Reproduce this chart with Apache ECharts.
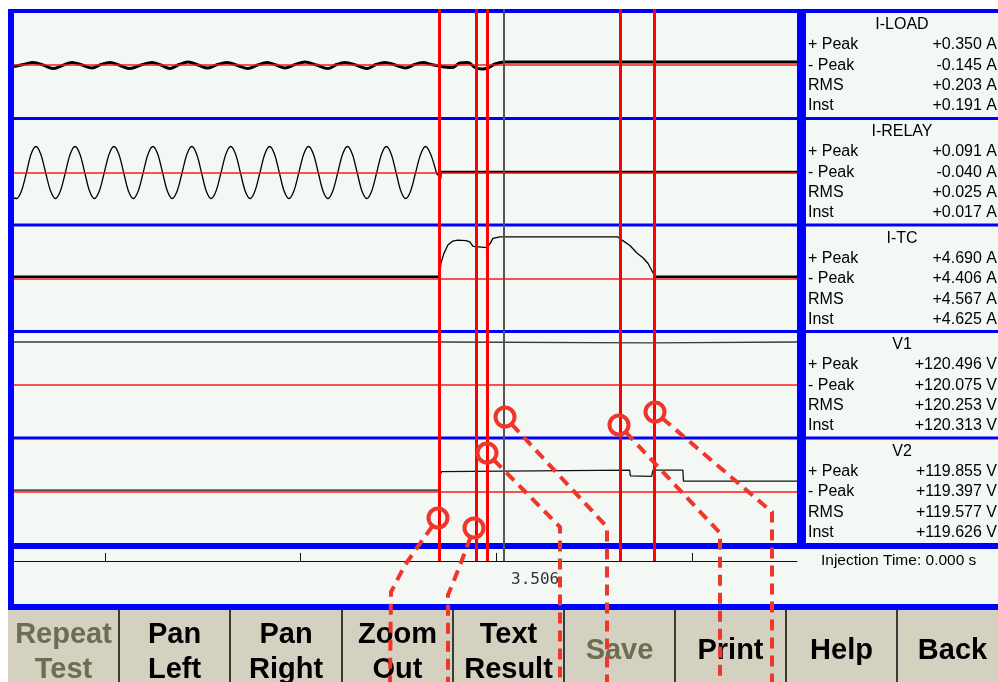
<!DOCTYPE html>
<html><head><meta charset="utf-8">
<script src="https://cdn.jsdelivr.net/npm/echarts@6/dist/echarts.min.js"></script>
<style>html,body{margin:0;padding:0;background:#fff}#c{width:998px;height:682px}</style>
</head><body><div id="c"></div>
<script>
// ---------------- data (time in ms) ----------------
const timeMax = 336;
const channels = ['I-LOAD', 'I-RELAY', 'I-TC', 'V1', 'V2'];
const rowLabels = ['+ Peak', '- Peak', 'RMS', 'Inst'];
const iLoadReadings  = ['+0.350 A', '-0.145 A', '+0.203 A', '+0.191 A'];
const iRelayReadings = ['+0.091 A', '-0.040 A', '+0.025 A', '+0.017 A'];
const iTcReadings    = ['+4.690 A', '+4.406 A', '+4.567 A', '+4.625 A'];
const v1Readings     = ['+120.496 V', '+120.075 V', '+120.253 V', '+120.313 V'];
const v2Readings     = ['+119.855 V', '+119.397 V', '+119.577 V', '+119.626 V'];
const injectionText = 'Injection Time: 0.000 s';
const cursorReadout = '3.506';
const cursorTimes = [182.4, 198.3, 203.0, 260.0, 274.6];
const refCursorTime = 210.3;
const tickTimes = [39.0, 122.7, 206.8, 290.9];
const buttonLabels = [['Repeat','Test'],['Pan','Left'],['Pan','Right'],['Zoom','Out'],['Text','Result'],['Save'],['Print'],['Help'],['Back']];
const buttonEnabled = [false, true, true, true, true, false, true, true, true];

const iLoad = [[0,-0.03],[4.1,0.01],[8.2,0.05],[12.5,0.0],[16.7,-0.07],[20.8,-0.01],[24.9,0.05],[29.2,0.0],[33.5,-0.06],[37.3,0.01],[41.2,0.05],[45.5,-0.01],[49.8,-0.07],[54.5,0.0],[59.2,0.05],[63.0,0.0],[66.9,-0.07],[70.8,0.01],[74.7,0.06],[79.0,0.0],[83.2,-0.06],[87.3,0.01],[91.4,0.05],[96.0,-0.01],[100.4,-0.07],[104.5,0.0],[108.6,0.05],[112.5,0.0],[116.3,-0.06],[120.6,0.01],[124.9,0.06],[129.8,0.0],[134.7,-0.07],[138.4,0.01],[142.0,0.05],[146.7,0.0],[151.4,-0.07],[155.3,0.01],[159.2,0.05],[163.6,0.0],[168.1,-0.06],[171.8,0.01],[175.5,0.05],[179.1,0.01],[182.8,-0.02],[185.0,-0.04],[188.0,-0.05],[191.4,0.04],[194.8,0.05],[197.8,-0.05],[200.8,-0.08],[203.4,-0.06],[206.4,0.02],[210.7,0.06],[336,0.06]];

const iRelay = [[0,-0.100],[1.1,-0.102],[3.2,-0.072],[5.3,0],[7.3,0.075],[9.4,0.106],[11.5,0.075],[13.6,0],[15.7,-0.072],
[17.8,-0.102],[19.9,-0.072],[22.0,0],[24.1,0.075],[26.2,0.106],[28.3,0.075],[30.4,0],[32.4,-0.072],
[34.5,-0.102],[36.6,-0.072],[38.7,0],[40.8,0.075],[42.9,0.106],[45.0,0.075],[47.1,0],[49.1,-0.072],
[51.2,-0.102],[53.3,-0.072],[55.4,0],[57.5,0.075],[59.6,0.106],[61.7,0.075],[63.8,0],[65.8,-0.072],
[67.9,-0.102],[70.0,-0.072],[72.1,0],[74.2,0.075],[76.3,0.106],[78.4,0.075],[80.5,0],[82.5,-0.072],
[84.6,-0.102],[86.7,-0.072],[88.8,0],[90.9,0.075],[93.0,0.106],[95.1,0.075],[97.2,0],[99.2,-0.072],
[101.3,-0.102],[103.4,-0.072],[105.5,0],[107.6,0.075],[109.7,0.106],[111.8,0.075],[113.9,0],[115.9,-0.072],
[118.0,-0.102],[120.1,-0.072],[122.2,0],[124.3,0.075],[126.4,0.106],[128.5,0.075],[130.6,0],[132.6,-0.072],
[134.7,-0.102],[136.8,-0.072],[138.9,0],[141.0,0.075],[143.1,0.106],[145.2,0.075],[147.3,0],[149.3,-0.072],
[151.4,-0.102],[153.5,-0.072],[155.6,0],[157.7,0.075],[159.8,0.106],[161.9,0.075],[164.0,0],[166.0,-0.072],
[168.1,-0.102],[170.2,-0.072],[172.3,0],[174.5,0.075],[176.6,0.106],[178.8,0.075],[181.3,0.0],
[182.6,-0.01],[182.9,-0.024],[183.2,0.004],[336,0.004]];

const iTc = [[0,0.25],[182.4,0.25],[182.9,1.0],[183.2,1.8],[184.5,2.9],[186.2,3.85],[188.3,4.3],[190.4,4.4],[194.0,4.35],[195.6,4.2],[197.0,3.7],[197.8,3.55],[203.0,3.55],[204.3,4.0],[205.5,4.6],[208.5,4.76],[259.2,4.76],[260.9,4.4],[264.3,3.8],[267.3,2.95],[269.9,2.4],[272.1,1.75],[273.8,0.9],[275.1,0.25],[336,0.25]];

const v1 = [[0,121.7],[182.6,121.7],[182.8,119.3],[273.6,119.3],[274.0,121.7],[336,121.7]];

const v2 = [[0,10],[182.6,10],[182.8,70],[183.0,95],[183.4,112],[184.0,120],[264.2,120],[264.5,88],[273.6,86],[273.9,78],[274.2,120],[287.0,120],[287.3,60],[336,60]];

// annotation callouts (screen overlay)
const callouts = [
  {c:[438,518], path:[[405,565],[391,592],[390,682]]},
  {c:[474,528], path:[[459,568],[448,595],[448,682]]},
  {c:[487,453], path:[[560,527],[560,682]]},
  {c:[505,417], path:[[607,527],[607,682]]},
  {c:[619,425], path:[[720,533],[720,682]]},
  {c:[655,412], path:[[772,512],[772,682]]}
];

// ---------------- layout ----------------
const X0 = 14, X1 = 797;
const baselines = [65, 173, 279, 385, 492];
const halfH = 53;
const yRanges = [1.06, 0.212, 6.0, 150, 290];
const separatorsY = [117, 223.5, 330, 436.5];
const BG = '#f4f8f4', BLUE = '#0000ff', RED = '#ff1a1a', ANN = '#f0352a';

const chart = echarts.init(document.getElementById('c'));

const grids = baselines.map(b => ({left: X0, top: b - halfH, width: X1 - X0, height: 2 * halfH, show: false}));
grids.push({left: X0, top: 9, width: X1 - X0, height: 552, show: false});

const xAxes = baselines.map((b, i) => ({gridIndex: i, type: 'value', min: 0, max: timeMax, show: false}));
xAxes.push({gridIndex: 5, type: 'value', min: 0, max: timeMax, position: 'bottom',
  axisLine: {show: true, onZero: false, lineStyle: {color: '#111', width: 1}},
  axisTick: {show: true, inside: true, length: 8, customValues: tickTimes, lineStyle: {color: '#111', width: 1}},
  axisLabel: {show: false}, splitLine: {show: false}});
const yAxes = yRanges.map((r, i) => ({gridIndex: i, type: 'value', min: -r, max: r, show: false}));
yAxes.push({gridIndex: 5, type: 'value', min: 0, max: 1, show: false});

const baseMark = {silent: true, symbol: ['none', 'none'], label: {show: false},
  lineStyle: {color: RED, width: 1.5, type: 'solid'}, emphasis: {disabled: true}, data: [{yAxis: 0}]};

function ln(i, data, color, width, smooth, mark, z) {
  return {type: 'line', xAxisIndex: i, yAxisIndex: i, data: data, showSymbol: false, symbol: 'none',
    smooth: smooth || false, lineStyle: {color: color, width: width}, silent: true, z: z || 3,
    markLine: mark ? baseMark : undefined};
}

const relaySine = iRelay.filter(p => p[0] <= 181.3);
const relayFlat = iRelay.filter(p => p[0] >= 181.3);
const tcFlat = iTc.map(p => (p[0] <= 182.4 || p[0] >= 275.1) ? p : null);

const series = [
  ln(0, iLoad, '#000', 3, 0.35, true),
  ln(1, relaySine, '#000', 1.3, 0.3, true),
  ln(1, relayFlat, '#000', 2.3, false, false),
  ln(2, iTc, '#000', 1.3, false, true),
  ln(2, tcFlat, '#000', 2.6, false, false),
  ln(3, v1, '#3a3a3a', 1.3, false, true),
  ln(4, v2, '#111', 1.3, false, true),
  {type: 'line', xAxisIndex: 5, yAxisIndex: 5, data: [], z: 6, silent: true,
   markLine: {silent: true, symbol: ['none', 'none'], label: {show: false}, emphasis: {disabled: true},
     data: cursorTimes.map(t => ({xAxis: t, lineStyle: {color: '#ff0000', width: 3, type: 'solid'}}))
       .concat([{xAxis: refCursorTime, lineStyle: {color: '#555', width: 2, type: 'solid'}}])}}
];

// ---------------- graphics ----------------
const g = [];
g.push({type: 'rect', shape: {x: 8, y: 9, width: 990, height: 601}, style: {fill: BG}, z: -10, silent: true});
// blue frame
g.push({type: 'rect', shape: {x: 8, y: 9, width: 990, height: 4}, style: {fill: BLUE}, z: 1, silent: true});
g.push({type: 'rect', shape: {x: 8, y: 9, width: 6, height: 601}, style: {fill: BLUE}, z: 1, silent: true});
g.push({type: 'rect', shape: {x: 797, y: 9, width: 9, height: 540}, style: {fill: BLUE}, z: 1, silent: true});
g.push({type: 'rect', shape: {x: 8, y: 543, width: 990, height: 6}, style: {fill: BLUE}, z: 1, silent: true});
g.push({type: 'rect', shape: {x: 8, y: 604, width: 990, height: 6}, style: {fill: BLUE}, z: 1, silent: true});
separatorsY.forEach(y => g.push({type: 'rect', shape: {x: 14, y: y, width: 984, height: 3}, style: {fill: BLUE}, z: 1, silent: true}));

// right info panel
const panelTops = [13, 120, 226.5, 333, 439.5];
const allReadings = [iLoadReadings, iRelayReadings, iTcReadings, v1Readings, v2Readings];
const FONT = '"Liberation Sans", Arial, sans-serif';
channels.forEach((name, i) => {
  const top = panelTops[i];
  g.push({type: 'text', x: 902, y: top + 12, z: 10, silent: true,
    style: {text: name, font: '16px ' + FONT, fill: '#000', align: 'center', verticalAlign: 'middle'}});
  const offs = [32, 52.5, 73, 93];
  rowLabels.forEach((lab, k) => {
    g.push({type: 'text', x: 808, y: top + offs[k], z: 10, silent: true,
      style: {text: lab, font: '16px ' + FONT, fill: '#000', align: 'left', verticalAlign: 'middle'}});
    g.push({type: 'text', x: 997, y: top + offs[k], z: 10, silent: true,
      style: {text: allReadings[i][k], font: '16px ' + FONT, fill: '#000', align: 'right', verticalAlign: 'middle'}});
  });
});
g.push({type: 'text', x: 821, y: 561, z: 10, silent: true,
  style: {text: injectionText, font: '15.5px ' + FONT, fill: '#000', align: 'left', verticalAlign: 'middle'}});
g.push({type: 'text', x: 511, y: 580, z: 10, silent: true,
  style: {text: cursorReadout, font: '16px "DejaVu Sans Mono", monospace', fill: '#333', align: 'left', verticalAlign: 'middle'}});

// buttons
const btnEdges = [8, 119, 230, 342, 453, 564, 675, 786, 897, 1008];
buttonLabels.forEach((lines, i) => {
  const x0 = btnEdges[i], x1 = btnEdges[i + 1];
  g.push({type: 'rect', shape: {x: x0, y: 610, width: x1 - x0, height: 72}, style: {fill: '#d5d1c1'}, z: 20, silent: true});
  if (i > 0) g.push({type: 'rect', shape: {x: x0 - 1, y: 610, width: 2, height: 72}, style: {fill: '#3a3a36'}, z: 21, silent: true});
  const col = buttonEnabled[i] ? '#000' : '#6d6d52';
  const cx = (x0 + x1) / 2;
  const ys = lines.length === 2 ? [635, 670] : [651];
  lines.forEach((t, k) => g.push({type: 'text', x: cx, y: ys[k], z: 22, silent: true,
    style: {text: t, font: 'bold 29px ' + FONT, fill: col, align: 'center', verticalAlign: 'middle'}}));
});

// callouts
const R = 9.5;
callouts.forEach(a => {
  const [cx, cy] = a.c;
  const p1 = a.path[0];
  const dx = p1[0] - cx, dy = p1[1] - cy, d = Math.hypot(dx, dy);
  const start = [cx + R * dx / d, cy + R * dy / d];
  g.push({type: 'circle', shape: {cx: cx, cy: cy, r: R}, style: {fill: null, stroke: ANN, lineWidth: 4}, z: 60, silent: true});
  g.push({type: 'polyline', shape: {points: [start].concat(a.path), smooth: 0}, z: 60, silent: true,
    style: {fill: null, stroke: ANN, lineWidth: 4, lineDash: [11, 7]}});
});

chart.setOption({
  animation: false,
  backgroundColor: '#ffffff',
  grid: grids, xAxis: xAxes, yAxis: yAxes, series: series, graphic: g
});
</script></body></html>
